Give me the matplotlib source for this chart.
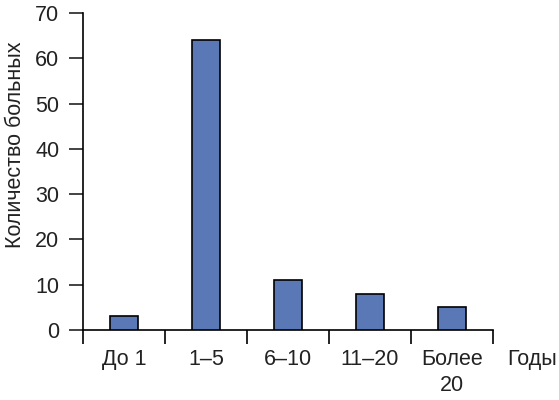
import matplotlib.pyplot as plt
import numpy as np

plt.rcParams['font.family'] = ['Liberation Sans', 'DejaVu Sans']

categories = ['До 1', '1–5', '6–10', '11–20', 'Более\n20']
values = [3, 64, 11, 8, 5]
yticks = [0, 10, 20, 30, 40, 50, 60, 70]

fs = 15.5
fig = plt.figure(figsize=(5.59, 4.0), dpi=100)
ax = fig.add_axes([0.1485, 0.175, 0.7335, 0.7925])

x = np.arange(len(categories))
ax.bar(x, values, width=0.34, color='#5b78b6', edgecolor='black', linewidth=1.2, zorder=3)

ax.set_xlim(-0.5, len(categories) - 0.5)
ax.set_ylim(0, 70)
ax.set_yticks(yticks)
ax.tick_params(axis='y', length=10, width=1.2, pad=7, labelsize=fs, colors='#222222')

# boundary ticks (major) and centred labels (minor)
ax.set_xticks(np.arange(len(categories) + 1) - 0.5)
ax.set_xticklabels([])
ax.tick_params(axis='x', which='major', length=10, width=1.2, direction='out')
ax.set_xticks(x, minor=True)
ax.set_xticklabels(categories, minor=True, fontsize=fs, color='#222222', linespacing=1.3)
ax.tick_params(axis='x', which='minor', length=0, pad=14)

for s in ['top', 'right']:
    ax.spines[s].set_visible(False)
for s in ['left', 'bottom']:
    ax.spines[s].set_linewidth(1.2)

fig.text(0.027, 0.6375, 'Количество больных', fontsize=fs, color='#222222',
         rotation=90, ha='center', va='center')
fig.text(0.907, 0.1025, 'Годы', fontsize=fs, color='#222222', ha='left', va='center')

fig.savefig('out.png', dpi=100)
